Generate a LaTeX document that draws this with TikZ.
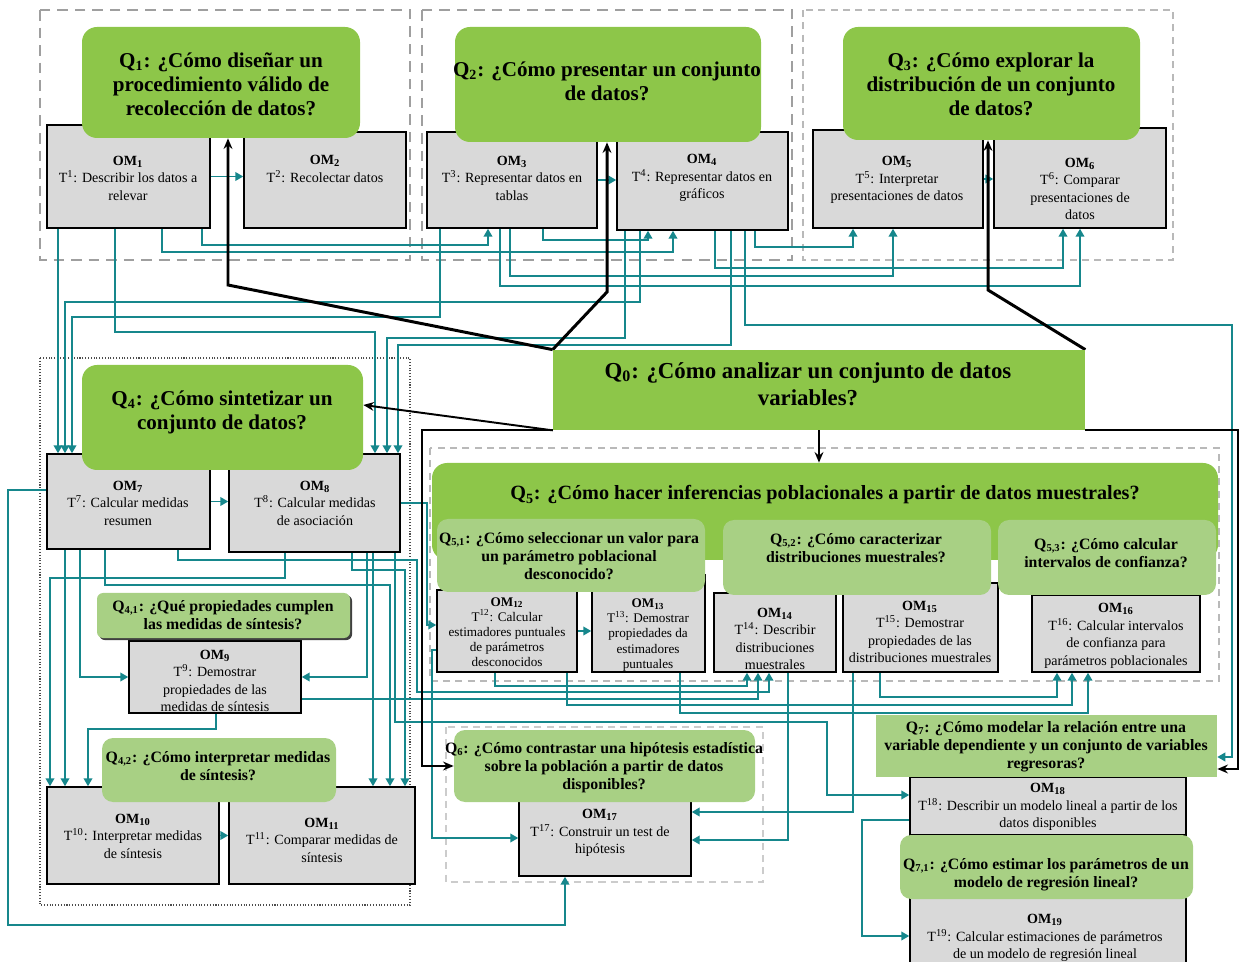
\documentclass[tikz,border=0pt]{standalone}
\usepackage{fontspec}
\setmainfont{Liberation Serif}
\usetikzlibrary{arrows.meta,fit,backgrounds,shadows,positioning}

\definecolor{qgreen}{RGB}{141,198,73}
\definecolor{qlight}{RGB}{168,208,132}
\definecolor{omgray}{RGB}{217,217,217}
\definecolor{linkteal}{RGB}{22,135,140}

\newcommand{\omname}[1]{\textbf{OM\textsubscript{#1}}}
\newcommand{\tasknum}[1]{T\textsuperscript{#1}}

\tikzset{
  qmain/.style={fill=qgreen, rounded corners=0.3cm, inner sep=0pt},
  qsub/.style={fill=qlight, rounded corners=0.22cm, inner sep=0pt},
  ombox/.style={draw=black, line width=0.9pt, fill=omgray, inner sep=0pt},
  qbig/.style={align=center, inner sep=0pt, font=\fontsize{12}{13.6}\selectfont\bfseries},
  qsmall/.style={align=center, inner sep=0pt, font=\fontsize{9}{10.2}\selectfont\bfseries},
  omtext/.style={align=center, inner sep=0pt, font=\fontsize{8}{10}\selectfont},
  omtight/.style={align=center, inner sep=0pt, font=\fontsize{7.5}{8.6}\selectfont},
  bigframe/.style={draw=gray!75, line width=1.2pt, dash pattern=on 6pt off 4pt},
  thinframe/.style={draw=gray!55, line width=0.7pt, dash pattern=on 4pt off 3pt},
  dotframe/.style={draw=black!70, line width=0.6pt, densely dotted},
  link/.style={draw=linkteal, line width=0.8pt, ->},
  qlink/.style={draw=black, line width=1.1pt, -{Stealth[length=6pt,width=5pt]}},
}

\begin{document}
\begin{tikzpicture}[x=0.02cm, y=-0.02cm, >={Triangle[length=4.5pt,width=5pt]}]
\useasboundingbox (0,0) rectangle (1241,962);

% OM boxes
\node[ombox, fit={(47,125) (210,228)}] (OM1) {};
\node[ombox, fit={(244,132) (406,228)}] (OM2) {};
\node[ombox, fit={(427,132) (597,228)}] (OM3) {};
\node[ombox, fit={(617,132) (788,230)}] (OM4) {};
\node[ombox, fit={(813,130) (983,228)}] (OM5) {};
\node[ombox, fit={(994,128) (1166,228)}] (OM6) {};
\node[ombox, fit={(47,454) (210,549)}] (OM7) {};
\node[ombox, fit={(229,454) (400,552)}] (OM8) {};
\node[ombox, fit={(129,641) (301,713)}] (OM9) {};
\node[ombox, fit={(47,787) (219,884)}] (OM10) {};
\node[ombox, fit={(229,787) (415,884)}] (OM11) {};
\node[ombox, fit={(437,590) (577,672)}] (OM12) {};
\node[ombox, fit={(592,575) (705,672)}] (OM13) {};
\node[ombox, fit={(714,593) (836,672)}] (OM14) {};
\node[ombox, fit={(843,583) (998,672)}] (OM15) {};
\node[ombox, fit={(1032,595) (1200,672)}] (OM16) {};
\node[ombox, fit={(519,800) (691,876)}] (OM17) {};
\node[ombox, fit={(910,777) (1186,835)}] (OM18) {};
\node[ombox, fit={(910,897) (1186,975)}] (OM19) {};

% question boxes
\node[qmain, fit={(82,27) (360,138)}] (Q1) {};
\node[qmain, fit={(455,27) (761,142)}] (Q2) {};
\node[qmain, fit={(843,27) (1140,140)}] (Q3) {};
\node[qmain, fit={(82,365) (363,470)}] (Q4) {};
\node[fill=qgreen, inner sep=0pt, fit={(553,350) (1085,430)}] (Q0) {};
\node[qmain, fit={(432,463) (1218,560)}] (Q5) {};
\node[qsub, fit={(437,519) (705,592)}] (Q51) {};
\node[qsub, fit={(723,520) (991,595)}] (Q52) {};
\node[qsub, fit={(998,520) (1216,595)}] (Q53) {};
\node[qsub, rounded corners=0.12cm, drop shadow={shadow xshift=1.2pt, shadow yshift=-1.2pt, fill=black!75, opacity=1}, fit={(97,593) (350,638)}] (Q41) {};
\node[qsub, fit={(102,738) (336,802)}] (Q42) {};
\node[qsub, fit={(454,730) (755,802)}] (Q6) {};
\node[fill=qlight, inner sep=0pt, fit={(876,715) (1217,777)}] (Q7) {};
\node[qsub, fit={(900,835) (1193,899)}] (Q71) {};

% question texts
\node[qbig] (Q1t) at (221,84) {Q\textsubscript{1}: ¿Cómo diseñar un\\procedimiento válido de\\recolección de datos?};
\node[qbig] (Q2t) at (607,81) {Q\textsubscript{2}: ¿Cómo presentar un conjunto\\de datos?};
\node[qbig] (Q3t) at (991,84) {Q\textsubscript{3}: ¿Cómo explorar la\\distribución de un conjunto\\de datos?};
\node[qbig] (Q4t) at (222,412) {Q\textsubscript{4}: ¿Cómo sintetizar un\\conjunto de datos?};
\node[qbig, font=\fontsize{13}{15.3}\selectfont\bfseries] (Q0t) at (808,384) {Q\textsubscript{0}: ¿Cómo analizar un conjunto de datos\\variables?};
\node[qbig, font=\fontsize{11.5}{13}\selectfont\bfseries] (Q5t) at (825,495) {Q\textsubscript{5}: ¿Cómo hacer inferencias poblacionales a partir de datos muestrales?};
\node[qsmall] (Q51t) at (569,556) {Q\textsubscript{5,1}: ¿Cómo seleccionar un valor para\\un parámetro poblacional\\desconocido?};
\node[qsmall] (Q52t) at (856,548) {Q\textsubscript{5,2}: ¿Cómo caracterizar\\distribuciones muestrales?};
\node[qsmall] (Q53t) at (1106,553) {Q\textsubscript{5,3}: ¿Cómo calcular\\intervalos de confianza?};
\node[qsmall] (Q41t) at (223,615) {Q\textsubscript{4,1}: ¿Qué propiedades cumplen\\las medidas de síntesis?};
\node[qsmall] (Q42t) at (218,766) {Q\textsubscript{4,2}: ¿Cómo interpretar medidas\\de síntesis?};
\node[qsmall] (Q6t) at (604,768) {Q\textsubscript{6}: ¿Cómo contrastar una hipótesis estadística\\sobre la población a partir de datos\\disponibles?};
\node[qsmall] (Q7t) at (1046,747) {Q\textsubscript{7}: ¿Cómo modelar la relación entre una\\variable dependiente y un conjunto de variables\\regresoras?};
\node[qsmall] (Q71t) at (1046,875) {Q\textsubscript{7,1}: ¿Cómo estimar los parámetros de un\\modelo de regresión lineal?};

% OM texts
\node[omtext] (OM1t) at (128,178) {\omname{1}\\\tasknum{1}: Describir los datos a\\relevar};
\node[omtext] (OM2t) at (325,169) {\omname{2}\\\tasknum{2}: Recolectar datos};
\node[omtext] (OM3t) at (512,178) {\omname{3}\\\tasknum{3}: Representar datos en\\tablas};
\node[omtext] (OM4t) at (702,178) {\omname{4}\\\tasknum{4}: Representar datos en\\gráficos};
\node[omtext] (OM5t) at (897,180) {\omname{5}\\\tasknum{5}: Interpretar\\presentaciones de datos};
\node[omtext] (OM6t) at (1080,189) {\omname{6}\\\tasknum{6}: Comparar\\presentaciones de\\datos};
\node[omtext] (OM7t) at (128,503) {\omname{7}\\\tasknum{7}: Calcular medidas\\resumen};
\node[omtext] (OM8t) at (315,503) {\omname{8}\\\tasknum{8}: Calcular medidas\\de asociación};
\node[omtext] (OM9t) at (215,681) {\omname{9}\\\tasknum{9}: Demostrar\\propiedades de las\\medidas de síntesis};
\node[omtext] (OM10t) at (133,836) {\omname{10}\\\tasknum{10}: Interpretar medidas\\de síntesis};
\node[omtext] (OM11t) at (322,840) {\omname{11}\\\tasknum{11}: Comparar medidas de\\síntesis};
\node[omtight] (OM12t) at (507,632) {\omname{12}\\\tasknum{12}: Calcular\\estimadores puntuales\\de parámetros\\desconocidos};
\node[omtight] (OM13t) at (648,635) {\omname{13}\\\tasknum{13}: Demostrar\\propiedades da\\estimadores\\puntuales};
\node[omtext] (OM14t) at (775,639) {\omname{14}\\\tasknum{14}: Describir\\distribuciones\\muestrales};
\node[omtext] (OM15t) at (920,632) {\omname{15}\\\tasknum{15}: Demostrar\\propiedades de las\\distribuciones muestrales};
\node[omtext] (OM16t) at (1116,636) {\omname{16}\\\tasknum{16}: Calcular intervalos\\de confianza para\\parámetros poblacionales};
\node[omtext] (OM17t) at (600,833) {\omname{17}\\\tasknum{17}: Construir un test de\\hipótesis};
\node[omtext] (OM18t) at (1048,807) {\omname{18}\\\tasknum{18}: Describir un modelo lineal a partir de los\\datos disponibles};
\node[omtext] (OM19t) at (1045,938) {\omname{19}\\\tasknum{19}: Calcular estimaciones de parámetros\\de un modelo de regresión lineal};

\begin{scope}[on background layer]
% frames
\draw[bigframe] (40,10) rectangle (410,260);
\draw[bigframe] (422,10) rectangle (792,260);
\draw[thinframe] (803,10) rectangle (1173,260);
\draw[dotframe] (40,358) rectangle (410,905);
\draw[thinframe] (430,448) rectangle (1219,681);
\draw[thinframe, draw=gray!40] (446,727) rectangle (763,882);

% row 1
\draw[link] (OM1.east) -- (OM1.east -| OM2.west);
\draw[link] (OM3.east) -- (OM3.east -| OM4.west);
\draw[link] (OM5.east) -- (OM5.east -| OM6.west);
\draw[link] (OM1.south -| 202,0) |- (488,245) -- (OM3.south -| 488,0);
\draw[link] (OM1.south -| 162,0) |- (673,252) -- (OM4.south -| 673,0);
\draw[link] (OM3.south -| 543,0) |- (648,240) -- (OM4.south -| 648,0);
\draw[link] (OM4.south -| 755,0) |- (853,247) -- (OM5.south -| 853,0);
\draw[link] (OM4.south -| 715,0) |- (1063,268) -- (OM6.south -| 1063,0);
\draw[link] (OM3.south -| 510,0) |- (893,276) -- (OM5.south -| 893,0);
\draw[link] (OM3.south -| 500,0) |- (1080,286) -- (OM6.south -| 1080,0);

% down to Q4
\draw[link] (OM1.south -| 58,0) -- (OM7.north -| 58,0);
\draw[link] (OM4.south -| 640,0) |- (65,302) -- (OM7.north -| 65,0);
\draw[link] (OM3.south -| 440,0) |- (72,317) -- (OM7.north -| 72,0);
\draw[link] (OM1.south -| 115,0) |- (375,332) -- (OM8.north -| 375,0);
\draw[link] (OM4.south -| 625,0) |- (387,338) -- (OM8.north -| 387,0);
\draw[link] (OM4.south -| 731,0) |- (398,345) -- (OM8.north -| 398,0);
\draw[link] (OM4.south -| 745,0) |- (1232,325) |- (Q7.east |- 0,757);

% inside Q4
\draw[link] (OM7.east) -- (OM7.east -| OM8.west);
\draw[link] (OM7.south -| 80,0) |- (OM9.west);
\draw[link] (OM7.south -| 65,0) -- (OM10.north -| 65,0);
\draw[link] (OM8.south -| 285,0) |- (50,578) -- (OM10.north -| 50,0);
\draw[link] (OM9.south -| 216,0) |- (88,729) -- (OM10.north -| 88,0);
\draw[link] (OM10.east) -- (OM10.east -| OM11.west);
\draw[link] (OM8.south -| 373,0) -- (OM11.north -| 373,0);
\draw[link] (OM7.south -| 105,0) |- (390,585) -- (OM11.north -| 390,0);
\draw[link] (OM8.south -| 352,0) |- (405,570) -- (OM11.north -| 405,0);
\draw[link] (OM8.south -| 367,0) |- (OM9.east);
\draw[link] (OM7.west |- 0,490) -| (8,925) -| (OM17.south -| 565,0);

% towards Q5
\draw[link] (OM8.east) -| (427,625) -- (OM12.west |- 0,625);
\draw[link] (OM12.east) -- (OM12.east -| OM13.west);
\draw[link] (OM12.south -| 495,0) |- (747,686) -- (OM14.south -| 747,0);
\draw[link] (OM7.south -| 178,0) |- (417,560) |- (769,692) -- (OM14.south -| 769,0);
\draw[link] (OM9.east |- 0,699) -| (OM14.south -| 758,0);
\draw[link] (OM15.south -| 880,0) |- (1057,697) -- (OM16.south -| 1057,0);
\draw[link] (OM12.south -| 567,0) |- (1072,705) -- (OM16.south -| 1072,0);
\draw[link] (OM13.south -| 680,0) |- (1088,713) -- (OM16.south -| 1088,0);

% towards Q6 and Q7
\draw[link] (OM12.west |- 0,650) -| (OM17.west -| 432,0) -- (OM17.west);
\draw[link] (OM15.south -| 853,0) |- (OM17.east |- 0,812);
\draw[link] (OM14.south -| 788,0) |- (OM17.east |- 0,840);
\draw[link] (OM8.south -| 395,0) |- (827,722) |- (OM18.west |- 0,795);
\draw[link] (OM18.west |- 0,820) -| (OM19.west -| 862,0) -- (OM19.west);

% from Q0
\draw[qlink, line width=1.7pt] (Q0.north west) -- (228,285) -- (Q1.south -| 228,0);
\draw[qlink, line width=1.7pt] (Q0.north west) -- (607,292) -- (Q2.south -| 607,0);
\draw[qlink, line width=1.7pt] (Q0.north east) -- (988,290) -- (Q3.south -| 988,0);
\draw[qlink] (Q0.south west) -- (Q4.east |- 0,405);
\draw[qlink] (Q0.south) -- (Q0.south |- Q5.north);
\draw[qlink] (Q0.south west) -| (Q6.west -| 422,0) -- (Q6.west);
\draw[qlink] (Q0.south east) -| (1238,769) -- (Q7.east |- 0,769);
\end{scope}
\end{tikzpicture}
\end{document}
